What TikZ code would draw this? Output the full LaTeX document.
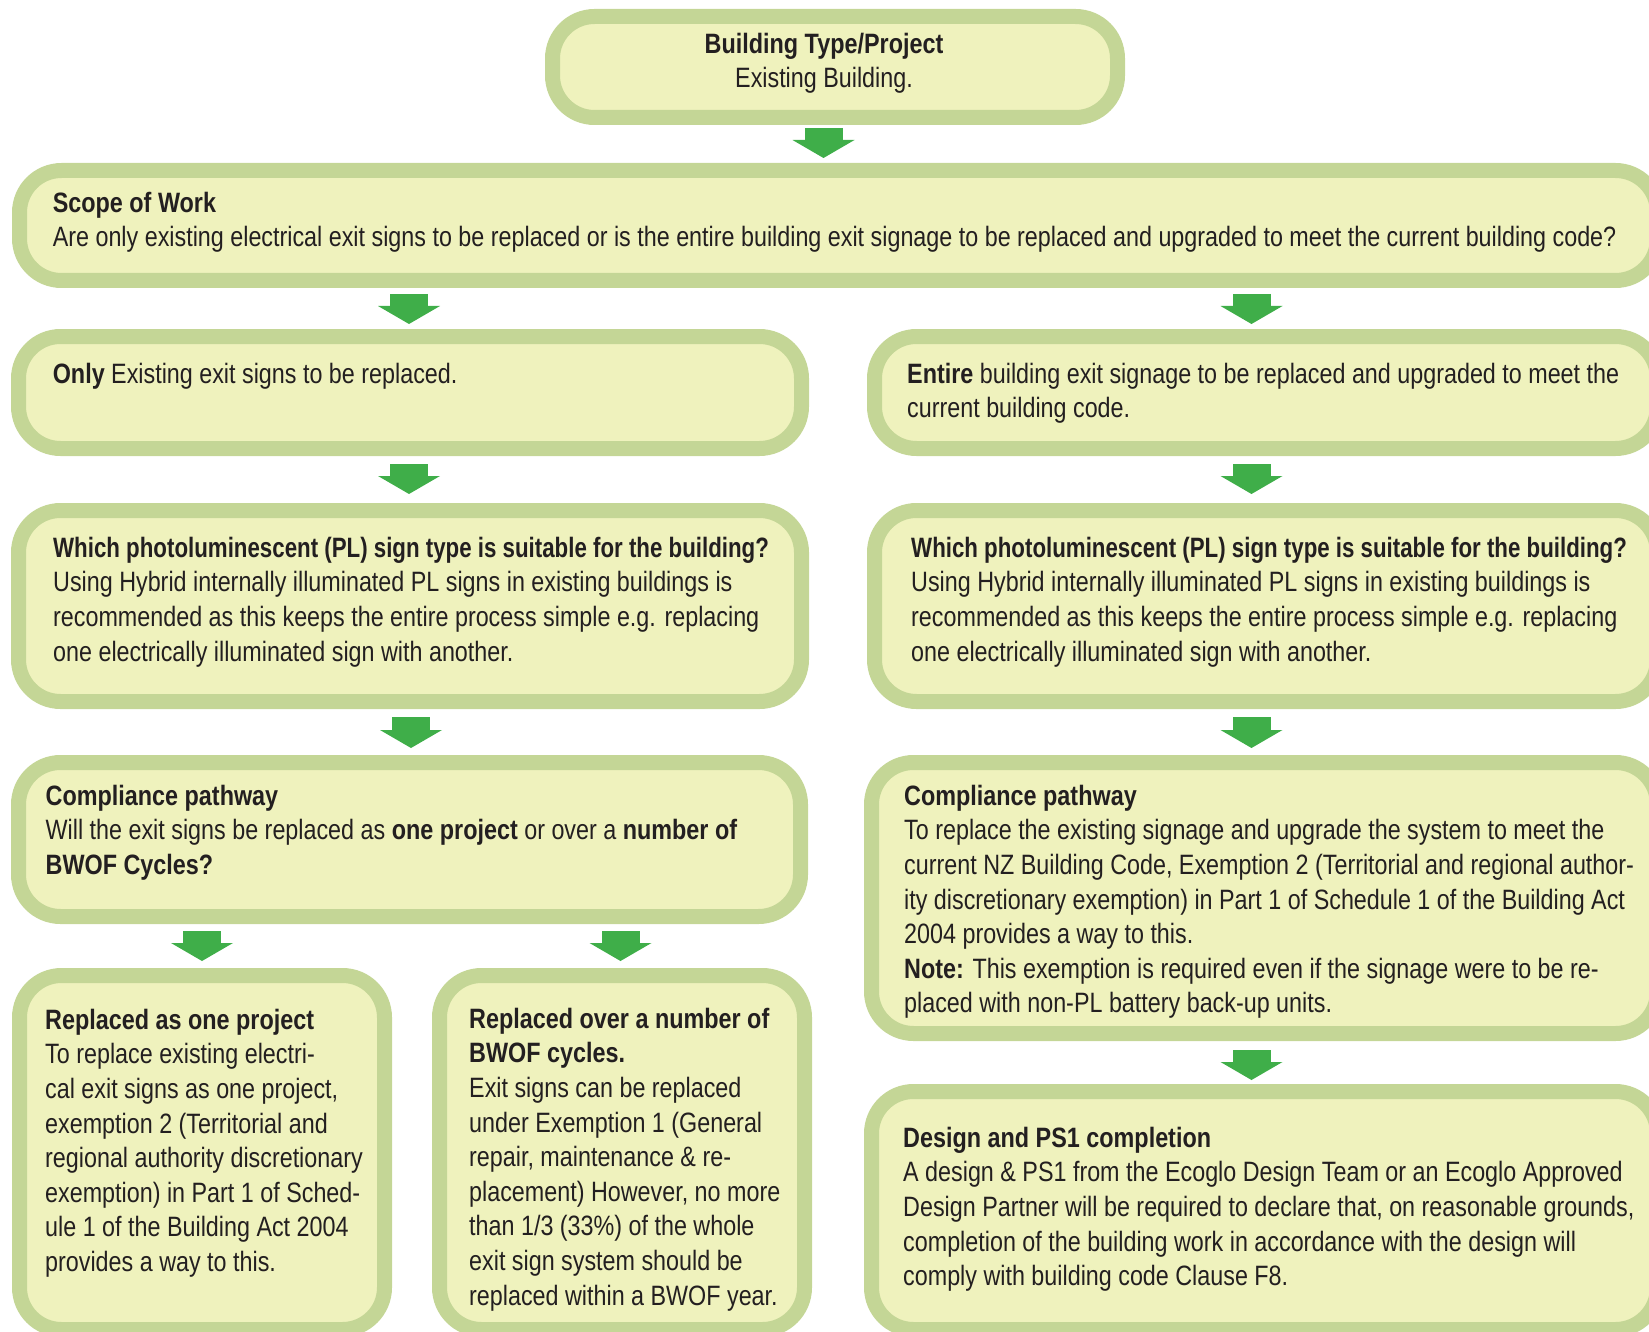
\documentclass[tikz,border=0pt]{standalone}
\usepackage{fontspec}
\setmainfont{Liberation Sans}[FakeStretch=0.833, BoldFeatures={FakeStretch=0.835}]
\newfontfamily\whichfont{Liberation Sans Bold}[FakeStretch=0.796]
\usepackage{xcolor}
\usepackage{tikz}
\usetikzlibrary{arrows.meta}

\definecolor{boxedge}{HTML}{C4D696}
\definecolor{boxfill}{HTML}{EFF2BD}
\definecolor{arrowgreen}{HTML}{3FAE49}
\definecolor{ink}{HTML}{231F20}

\tikzset{
  box/.style={draw=boxedge, fill=boxfill, line width=15pt, rounded corners=42pt,
    inner sep=0pt, anchor=north west},
  txt/.style={inner sep=0pt, align=left, anchor=north west, text=ink,
    font=\fontsize{28pt}{34.6pt}\selectfont},
  flow/.style={draw=arrowgreen, line width=38pt,
    -{Triangle[width=62pt, length=18pt, line width=0pt]}}
}
% strut for the first line of a text block
\newcommand{\fl}{\rule{0pt}{25pt}}

\begin{document}
\begin{tikzpicture}[x=1pt, y=-1pt]
  \useasboundingbox (0,0) rectangle (1649,1332);
  \clip (0,0) rectangle (1649,1332);

  % Boxes
  \node[box, minimum width=565pt, minimum height=101pt] (type) at (545,9) {};
  \node[box, minimum width=1638pt, minimum height=110pt] (scope) at (12,163) {};
  \node[box, minimum width=783pt, minimum height=112pt] (only) at (11,329) {};
  \node[box, minimum width=783pt, minimum height=112pt] (entire) at (867,329) {};
  \node[box, minimum width=783pt, minimum height=191pt] (plL) at (11,503) {};
  \node[box, minimum width=783pt, minimum height=191pt] (plR) at (867,503) {};
  \node[box, minimum width=782pt, minimum height=154pt] (compL) at (11,755) {};
  \node[box, minimum width=786pt, minimum height=271pt] (compR) at (864,755) {};
  \node[box, minimum width=365pt, minimum height=354pt] (proj) at (12,968) {};
  \node[box, minimum width=365pt, minimum height=354pt] (cycles) at (432,968) {};
  \node[box, minimum width=786pt, minimum height=238pt] (design) at (864,1084) {};

  % Texts
  \node[txt, align=center, anchor=north] (typeT) at (824,28)
    {\fl\textbf{Building Type/Project}\\Existing Building.};
  \node[txt] (scopeT) at (52.6,187)
    {\fl\textbf{Scope of Work}\\Are only existing electrical exit signs to be replaced or is the entire building exit signage to be replaced and upgraded to meet the current building code?};
  \node[txt] (onlyT) at (52.6,358)
    {\fl\textbf{Only} Existing exit signs to be replaced.};
  \node[txt] (entireT) at (907,358)
    {\fl\textbf{Entire} building exit signage to be replaced and upgraded to meet the\\current building code.};
  \node[txt] (plLT) at (53,532)
    {\fl{\whichfont Which photoluminescent (PL) sign type is suitable for the building?}\\
     Using Hybrid internally illuminated PL signs in existing buildings is\\
     recommended as this keeps the entire process simple e.g. replacing\\
     one electrically illuminated sign with another.};
  \node[txt] (plRT) at (911,532)
    {\fl{\whichfont Which photoluminescent (PL) sign type is suitable for the building?}\\
     Using Hybrid internally illuminated PL signs in existing buildings is\\
     recommended as this keeps the entire process simple e.g. replacing\\
     one electrically illuminated sign with another.};
  \node[txt] (compLT) at (45.5,780)
    {\fl\textbf{Compliance pathway}\\
     Will the exit signs be replaced as \textbf{one project} or over a \textbf{number of}\\
     \textbf{BWOF Cycles?}};
  \node[txt] (compRT) at (904,780)
    {\fl\textbf{Compliance pathway}\\
     To replace the existing signage and upgrade the system to meet the\\
     current NZ Building Code, Exemption 2 (Territorial and regional author-\\
     ity discretionary exemption) in Part 1 of Schedule 1 of the Building Act\\
     2004 provides a way to this.\\
     \textbf{Note:} This exemption is required even if the signage were to be re-\\
     placed with non-PL battery back-up units.};
  \node[txt] (projT) at (45,1004)
    {\fl\textbf{Replaced as one project}\\
     To replace existing electri-\\
     cal exit signs as one project,\\
     exemption 2 (Territorial and\\
     regional authority discretionary\\
     exemption) in Part 1 of Sched-\\
     ule 1 of the Building Act 2004\\
     provides a way to this.};
  \node[txt] (cyclesT) at (469,1003)
    {\fl\textbf{Replaced over a number of}\\
     \textbf{BWOF cycles.}\\
     Exit signs can be replaced\\
     under Exemption 1 (General\\
     repair, maintenance \& re-\\
     placement) However, no more\\
     than 1/3 (33\%) of the whole\\
     exit sign system should be\\
     replaced within a BWOF year.};
  \node[txt] (designT) at (903,1122)
    {\fl\textbf{Design and PS1 completion}\\
     A design \& PS1 from the Ecoglo Design Team or an Ecoglo Approved\\
     Design Partner will be required to declare that, on reasonable grounds,\\
     completion of the building work in accordance with the design will\\
     comply with building code Clause F8.};

  % Arrows
  \draw[flow, shorten <=3pt, shorten >=5pt] (823.5,0 |- type.south) -- (823.5,0 |- scope.north);
  \draw[flow, shorten <=6pt, shorten >=5pt] (409,0 |- scope.south) -- (409,0 |- only.north);
  \draw[flow, shorten <=6pt, shorten >=5pt] (1251.5,0 |- scope.south) -- (1251.5,0 |- entire.north);
  \draw[flow, shorten <=8pt, shorten >=9pt] (409,0 |- only.south) -- (409,0 |- plL.north);
  \draw[flow, shorten <=8pt, shorten >=9pt] (1251.5,0 |- entire.south) -- (1251.5,0 |- plR.north);
  \draw[flow, shorten <=8pt, shorten >=7pt] (411,0 |- plL.south) -- (411,0 |- compL.north);
  \draw[flow, shorten <=8pt, shorten >=7pt] (1251.5,0 |- plR.south) -- (1251.5,0 |- compR.north);
  \draw[flow, shorten <=7pt, shorten >=7pt] (202,0 |- compL.south) -- (202,0 |- proj.north);
  \draw[flow, shorten <=7pt, shorten >=7pt] (620.5,0 |- compL.south) -- (620.5,0 |- cycles.north);
  \draw[flow, shorten <=9pt, shorten >=4pt] (1251.5,0 |- compR.south) -- (1251.5,0 |- design.north);
\end{tikzpicture}
\end{document}
